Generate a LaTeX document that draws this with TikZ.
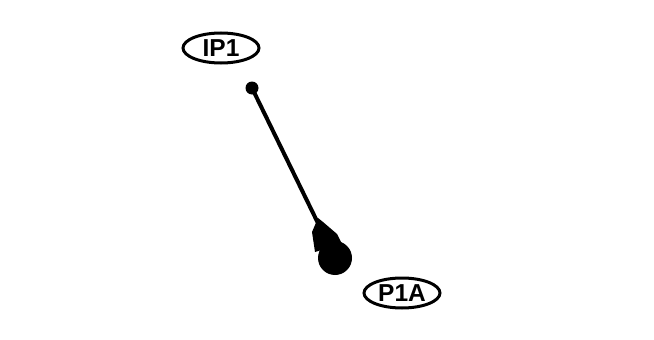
\documentclass[tikz,border=0pt]{standalone}
\usepackage{fontspec}
\setmainfont{Liberation Sans}
\usetikzlibrary{shapes.geometric}
\begin{document}
\begin{tikzpicture}[x=1pt,y=-1pt,
  lbl/.style={draw,ellipse,line width=3pt,minimum width=76pt,minimum height=30pt,inner sep=0pt,font=\fontsize{24.5}{24.5}\selectfont\bfseries},
  dotnode/.style={circle,fill=black,inner sep=0pt}]
\useasboundingbox (0,0) rectangle (654,340);
\node[lbl] (ip1) at (221,48) {IP1};
\node[lbl] (p1a) at (402,293) {P1A};
\node[dotnode,minimum size=13pt] (d1) at (252,88) {};
\node[dotnode,minimum size=34pt] (d2) at (335,258) {};
\draw[line width=4pt] (d1.center) -- (d2.center);
\fill (318,218) -- (312,232) -- (315,252) -- (342,244) -- (337,234) -- (323,222) -- cycle;
\end{tikzpicture}
\end{document}
